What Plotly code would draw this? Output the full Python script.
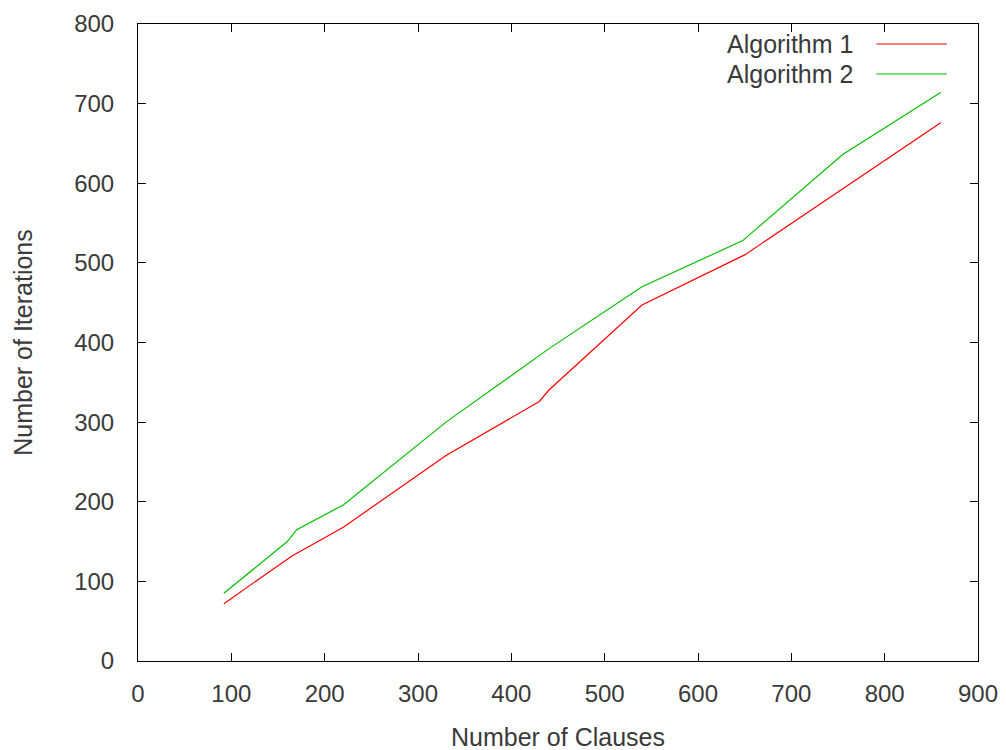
import plotly.graph_objects as go

alg1_x = [92, 165, 220, 330, 430, 440, 540, 650, 860]
alg1_y = [72, 132, 168, 258, 326, 340, 447, 510, 676]
alg2_x = [92, 160, 170, 220, 330, 440, 540, 648, 755, 860]
alg2_y = [85, 150, 165, 196, 300, 392, 470, 528, 636, 714]
series_names = ["Algorithm 1", "Algorithm 2"]
series_colors = ["#ff0000", "#00c000"]

x_ticks = [0, 100, 200, 300, 400, 500, 600, 700, 800, 900]
y_ticks = [0, 100, 200, 300, 400, 500, 600, 700, 800]

font_main = "Liberation Sans, Arial, sans-serif"
txt_col = "#3a3a3a"

fig = go.Figure()
for xs, ys, name, col in [(alg1_x, alg1_y, series_names[0], series_colors[0]),
                           (alg2_x, alg2_y, series_names[1], series_colors[1])]:
    fig.add_trace(go.Scatter(x=xs, y=ys, mode="lines", name=name,
                             line=dict(color=col, width=1.2), showlegend=False))

# gnuplot-style legend: text right-aligned, sample to the right
leg_y = [0.9686, 0.9215]
for name, col, ly in zip(series_names, series_colors, leg_y):
    fig.add_annotation(x=0.853, y=ly, xref="paper", yref="paper", text=name,
                       showarrow=False, xanchor="right", yanchor="middle",
                       font=dict(family=font_main, size=25, color=txt_col))
    fig.add_shape(type="line", xref="paper", yref="paper", x0=0.879, x1=0.963,
                  y0=ly, y1=ly, line=dict(color=col, width=1.2))

fig.update_layout(
    width=1006, height=750,
    margin=dict(l=130, r=36, t=16, b=97),
    paper_bgcolor="white", plot_bgcolor="white",
    xaxis=dict(range=[0, 900], tickvals=x_ticks, ticks="inside", ticklen=8,
               tickcolor="black", showline=True, linecolor="black", linewidth=1,
               mirror="allticks", showgrid=False, zeroline=False,
               automargin=False,
               ticklabelstandoff=11,
               tickfont=dict(family=font_main, size=24, color=txt_col),
               title=dict(text="Number of Clauses", standoff=22,
                          font=dict(family=font_main, size=25, color=txt_col))),
    yaxis=dict(range=[0, 800], tickvals=y_ticks, ticks="inside", ticklen=8,
               tickcolor="black", showline=True, linecolor="black", linewidth=1,
               mirror="allticks", showgrid=False, zeroline=False,
               automargin=False,
               ticklabelstandoff=18,
               tickfont=dict(family=font_main, size=24, color=txt_col),
               title=dict(text="Number of Iterations", standoff=34,
                          font=dict(family=font_main, size=25, color=txt_col))),
)

fig.write_html("out.html")
